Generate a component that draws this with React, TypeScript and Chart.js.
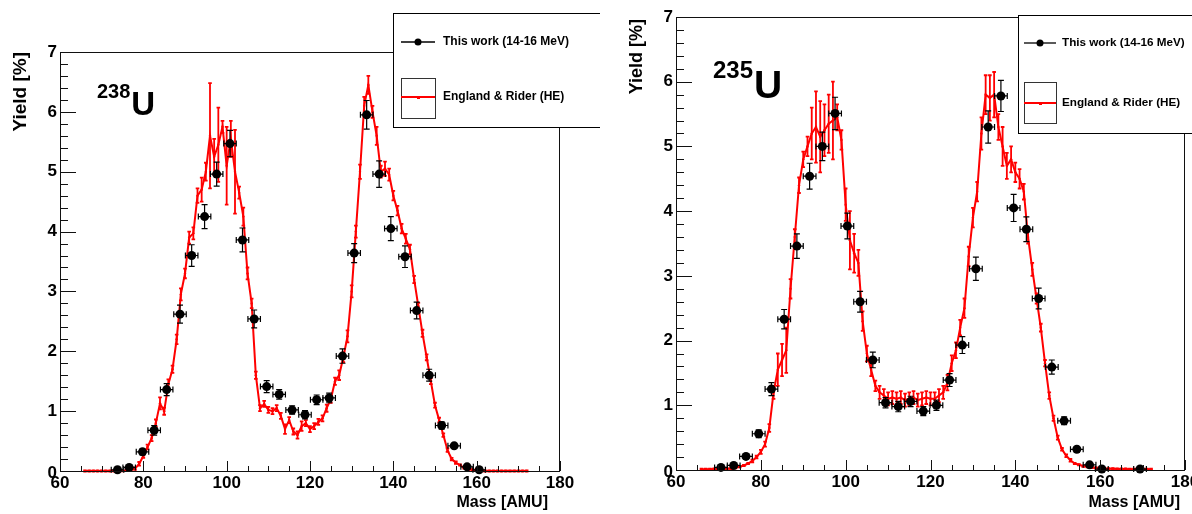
import React, { useEffect, useRef } from "react";
import { Chart, registerables } from "chart.js";

Chart.register(...registerables);

// ---------------- Data ----------------
const refMass = [
  66, 67, 68, 69, 70, 71, 72, 73, 74, 75, 76, 77, 78, 79, 80, 81, 82, 83, 84, 85,
  86, 87, 88, 89, 90, 91, 92, 93, 94, 95, 96, 97, 98, 99, 100, 101, 102, 103, 104, 105,
  106, 107, 108, 109, 110, 111, 112, 113, 114, 115, 116, 117, 118, 119, 120, 121, 122, 123, 124, 125,
  126, 127, 128, 129, 130, 131, 132, 133, 134, 135, 136, 137, 138, 139, 140, 141, 142, 143, 144, 145,
  146, 147, 148, 149, 150, 151, 152, 153, 154, 155, 156, 157, 158, 159, 160, 161, 162, 163, 164, 165,
  166, 167, 168, 169, 170, 171, 172,
];

const refYieldU238 = [
  0, 0, 0, 0, 0, 0, 0, 0, 0,
  0.005, 0.01, 0.02, 0.04, 0.12,
  0.25, 0.4, 0.55, 0.8, 1.13,
  1.0, 1.45, 1.7, 2.2, 2.95,
  3.3, 3.9, 3.97, 4.6, 4.7,
  5.0, 5.6, 5.25, 5.45, 5.75,
  5.1, 5.55, 5.0, 4.65, 4.25,
  3.3, 2.8, 1.6, 1.05, 1.12,
  1.02, 1.0, 1.05, 0.92, 0.7,
  0.85, 0.66, 0.6, 0.75, 0.8,
  0.7, 0.75, 0.82, 0.88, 1.05,
  1.2, 1.5, 1.6, 1.9, 2.25,
  3.0, 4.0, 5.0, 6.1, 6.45,
  6.0, 5.6, 5.0, 5.05, 4.95,
  4.6, 4.35, 4.05, 3.88, 3.7,
  3.2, 2.75, 2.3, 1.9, 1.5,
  1.1, 0.85, 0.6, 0.35, 0.2,
  0.14, 0.1, 0.05, 0.03, 0.02,
  0.01, 0.005, 0, 0, 0,
  0, 0, 0, 0, 0,
  0, 0, 0,
];

const refErrU238 = [
  0.01, 0.01, 0.01, 0.01, 0.01, 0.01, 0.01, 0.01, 0.01,
  0.01, 0.01, 0.01, 0.02, 0.03,
  0.03, 0.04, 0.05, 0.06, 0.1,
  0.06, 0.08, 0.06, 0.08, 0.1,
  0.08, 0.1, 0.1, 0.12, 0.2,
  0.15, 0.88, 0.3, 0.62, 0.1,
  0.65, 0.3, 0.7, 0.1, 0.15,
  0.1, 0.08, 0.06, 0.05, 0.05,
  0.05, 0.05, 0.05, 0.05, 0.08,
  0.05, 0.05, 0.06, 0.08, 0.05,
  0.05, 0.05, 0.05, 0.05, 0.06,
  0.06, 0.06, 0.08, 0.08, 0.1,
  0.1, 0.1, 0.12, 0.15, 0.15,
  0.1, 0.15, 0.1, 0.12, 0.1,
  0.08, 0.08, 0.08, 0.08, 0.08,
  0.06, 0.06, 0.06, 0.05, 0.05,
  0.04, 0.04, 0.03, 0.03, 0.02,
  0.02, 0.01, 0.01, 0.01, 0.01,
  0.01, 0.01, 0.01, 0.01, 0.01,
  0.01, 0.01, 0.01, 0.01, 0.01,
  0.01, 0.01, 0.01,
];

const refYieldU235 = [
  0.01, 0.01, 0.01, 0.015, 0.015,
  0.02, 0.02, 0.025, 0.035, 0.05,
  0.07, 0.1, 0.14, 0.2, 0.28,
  0.4, 0.65, 1.2, 1.55, 1.7,
  1.85, 2.8, 3.6, 4.4, 4.8,
  5.0, 5.2, 5.3, 5.15, 5.25,
  5.35, 5.4, 5.45, 5.1, 4.1,
  3.55, 3.35, 3.2, 2.3, 1.8,
  1.55, 1.3, 1.2, 1.15, 1.1,
  1.12, 1.1, 1.12, 1.08, 1.1,
  1.12, 1.08, 1.1, 1.12, 1.1,
  1.1, 1.15, 1.2, 1.35, 1.65,
  1.85, 2.2, 2.5, 3.3, 3.9,
  4.3, 5.2, 5.8, 5.75, 5.8,
  5.3, 5.0, 4.7, 4.8, 4.6,
  4.5, 4.3, 3.6, 3.1, 2.65,
  2.2, 1.65, 1.15, 0.8, 0.5,
  0.32, 0.22, 0.15, 0.1, 0.08,
  0.06, 0.05, 0.04, 0.03, 0.025,
  0.02, 0.02, 0.02, 0.015, 0.015,
  0.015, 0.01, 0.01, 0.01, 0.01,
  0.01, 0.01,
];

const refErrU235 = [
  0.01, 0.01, 0.01, 0.01, 0.01,
  0.01, 0.01, 0.01, 0.01, 0.01,
  0.01, 0.01, 0.02, 0.02, 0.03,
  0.04, 0.06, 0.1, 0.25, 0.25,
  0.35, 0.15, 0.12, 0.12, 0.12,
  0.15, 0.4, 0.55, 0.55, 0.4,
  0.45, 0.6, 0.2, 0.15, 0.25,
  0.45, 0.3, 0.2, 0.15, 0.12,
  0.1, 0.08, 0.1, 0.1, 0.1,
  0.1, 0.1, 0.1, 0.1, 0.1,
  0.1, 0.1, 0.1, 0.1, 0.1,
  0.1, 0.1, 0.1, 0.12, 0.12,
  0.12, 0.12, 0.15, 0.15, 0.15,
  0.15, 0.25, 0.3, 0.35, 0.35,
  0.2, 0.3, 0.2, 0.2, 0.15,
  0.15, 0.12, 0.1, 0.1, 0.08,
  0.06, 0.05, 0.05, 0.04, 0.03,
  0.02, 0.02, 0.02, 0.01, 0.01,
  0.01, 0.01, 0.01, 0.01, 0.01,
  0.01, 0.01, 0.01, 0.01, 0.01,
  0.01, 0.01, 0.01, 0.01, 0.01,
  0.01, 0.01,
];

const workMassU238 = [73.8, 76.6, 79.8, 82.6, 85.6, 88.8, 91.6, 94.7, 97.6, 100.8, 103.8, 106.6, 109.6, 112.6, 115.7, 118.8, 121.6, 124.6, 127.8, 130.6, 133.6, 136.6, 139.4, 142.8, 145.6, 148.6, 151.6, 154.6, 157.7, 160.6];
const workYieldU238 = [0.02, 0.06, 0.32, 0.68, 1.36, 2.62, 3.6, 4.25, 4.96, 5.47, 3.86, 2.54, 1.41, 1.28, 1.02, 0.94, 1.19, 1.22, 1.92, 3.64, 5.95, 4.96, 4.05, 3.58, 2.68, 1.6, 0.76, 0.42, 0.07, 0.02];
const workErrU238 = [0.02, 0.02, 0.05, 0.08, 0.1, 0.15, 0.18, 0.2, 0.2, 0.22, 0.2, 0.15, 0.1, 0.08, 0.07, 0.07, 0.08, 0.08, 0.12, 0.16, 0.24, 0.22, 0.2, 0.18, 0.14, 0.1, 0.06, 0.04, 0.02, 0.01];

const workMassU235 = [70.6, 73.6, 76.5, 79.5, 82.5, 85.5, 88.5, 91.5, 94.5, 97.5, 100.4, 103.4, 106.4, 109.4, 112.4, 115.3, 118.3, 121.4, 124.5, 127.5, 130.7, 133.6, 136.6, 139.6, 142.6, 145.5, 148.6, 151.5, 154.5, 157.5, 160.4, 169.4];
const workYieldU235 = [0.04, 0.07, 0.21, 0.56, 1.25, 2.33, 3.46, 4.54, 5.0, 5.51, 3.77, 2.6, 1.7, 1.04, 0.98, 1.06, 0.91, 1.0, 1.39, 1.93, 3.11, 5.3, 5.78, 4.05, 3.72, 2.65, 1.59, 0.76, 0.32, 0.08, 0.015, 0.015];
const workErrU235 = [0.02, 0.02, 0.03, 0.06, 0.1, 0.15, 0.19, 0.2, 0.22, 0.25, 0.2, 0.16, 0.12, 0.08, 0.08, 0.08, 0.07, 0.08, 0.1, 0.13, 0.18, 0.25, 0.24, 0.21, 0.19, 0.16, 0.11, 0.06, 0.04, 0.02, 0.01, 0.01];

const massHalfWidth = 1.5;
const xTickLabels = [60, 80, 100, 120, 140, 160, 180];
const yTickLabels = [0, 1, 2, 3, 4, 5, 6, 7];
const legendWork = "This work (14-16 MeV)";
const legendRef = "England & Rider (HE)";
const xTitle = "Mass [AMU]";
const yTitle = "Yield [%]";

// ---------------- Styling ----------------
const FONT = "'Liberation Sans', Arial, Helvetica, sans-serif";
const RED = "#ff0000";

type Panel = {
  left: number;
  width: number;
  height: number;
  padding: { left: number; right: number; top: number; bottom: number };
  refYield: number[];
  refErr: number[];
  workMass: number[];
  workYield: number[];
  workErr: number[];
  iso: string;
  isoX: number;
  isoY: number;
  isoSupSize: number;
  isoUSize: number;
  isoUY: number;
  legend: { x: number; y: number; w: number; h: number; font: number; e1y: number; boxY: number; boxH: number; e2y: number; textDx: number; markDx: number; markW: number };
  yTitleX: number;
  yTitleEnd: number;
  yTitleSize: number;
  xTitleRightGap: number;
  xTitleY: number;
  xTitleSize: number;
  tickFont: number;
};

const panels: Panel[] = [
  {
    left: 0,
    width: 600,
    height: 514,
    padding: { left: 60, right: 40, top: 52, bottom: 43 },
    refYield: refYieldU238,
    refErr: refErrU238,
    workMass: workMassU238,
    workYield: workYieldU238,
    workErr: workErrU238,
    iso: "238",
    isoX: 97,
    isoY: 98,
    isoSupSize: 20,
    isoUSize: 33,
    isoUY: 115,
    legend: { x: 393, y: 13, w: 215, h: 114, font: 12, e1y: 29, boxY: 65, boxH: 40, e2y: 84, textDx: 50, markDx: 8, markW: 34 },
    yTitleX: 21,
    yTitleEnd: 52,
    yTitleSize: 19,
    xTitleRightGap: 12,
    xTitleY: 503,
    xTitleSize: 16,
    tickFont: 17,
  },
  {
    left: 600,
    width: 592,
    height: 514,
    padding: { left: 76, right: 7, top: 17, bottom: 44 },
    refYield: refYieldU235,
    refErr: refErrU235,
    workMass: workMassU235,
    workYield: workYieldU235,
    workErr: workErrU235,
    iso: "235",
    isoX: 113,
    isoY: 78,
    isoSupSize: 24,
    isoUSize: 39,
    isoUY: 98,
    legend: { x: 418, y: 15, w: 200, h: 118, font: 11.7, e1y: 28, boxY: 67, boxH: 41, e2y: 88, textDx: 44, markDx: 6, markW: 32 },
    yTitleX: 37,
    yTitleEnd: 19,
    yTitleSize: 18,
    xTitleRightGap: 5,
    xTitleY: 503,
    xTitleSize: 16,
    tickFont: 17,
  },
];

function makePlugin(p: Panel) {
  return {
    id: "rootStyle",
    beforeDatasetDraw(chart: any, args: any) {
      if (args.index !== 0) return;
      const xs = chart.scales.x;
      const ys = chart.scales.y;
      const ctx = chart.ctx as CanvasRenderingContext2D;
      ctx.save();
      ctx.strokeStyle = "#000";
      ctx.lineWidth = 1.2;
      p.workMass.forEach((m, i) => {
        const v = p.workYield[i];
        const e = p.workErr[i];
        const px = xs.getPixelForValue(m);
        const py = ys.getPixelForValue(v);
        const x1 = xs.getPixelForValue(m - massHalfWidth);
        const x2 = xs.getPixelForValue(m + massHalfWidth);
        const y1 = ys.getPixelForValue(v + e);
        const y2 = ys.getPixelForValue(v - e);
        ctx.beginPath();
        ctx.moveTo(x1, py);
        ctx.lineTo(x2, py);
        ctx.moveTo(x1, py - 3);
        ctx.lineTo(x1, py + 3);
        ctx.moveTo(x2, py - 3);
        ctx.lineTo(x2, py + 3);
        ctx.moveTo(px, y1);
        ctx.lineTo(px, y2);
        ctx.moveTo(px - 3, y1);
        ctx.lineTo(px + 3, y1);
        ctx.moveTo(px - 3, y2);
        ctx.lineTo(px + 3, y2);
        ctx.stroke();
      });
      ctx.restore();
    },
    afterDatasetDraw(chart: any, args: any) {
      if (args.index !== 1) return;
      const xs = chart.scales.x;
      const ys = chart.scales.y;
      const ctx = chart.ctx as CanvasRenderingContext2D;
      ctx.save();
      ctx.strokeStyle = RED;
      ctx.lineWidth = 1.8;
      refMass.forEach((m, i) => {
        const v = p.refYield[i];
        const e = p.refErr[i];
        const px = xs.getPixelForValue(m);
        const y1 = ys.getPixelForValue(v + e);
        const y2 = ys.getPixelForValue(v - e);
        ctx.beginPath();
        ctx.moveTo(px, y1);
        ctx.lineTo(px, y2);
        ctx.moveTo(px - 1.8, y1);
        ctx.lineTo(px + 1.8, y1);
        ctx.moveTo(px - 1.8, y2);
        ctx.lineTo(px + 1.8, y2);
        ctx.stroke();
      });
      ctx.restore();
    },
    afterDraw(chart: any) {
      const xs = chart.scales.x;
      const ys = chart.scales.y;
      const ctx = chart.ctx as CanvasRenderingContext2D;
      const { left, right, top, bottom } = chart.chartArea;
      ctx.save();
      // frame
      ctx.strokeStyle = "#111";
      ctx.lineWidth = 1;
      ctx.strokeRect(left + 0.5, top + 0.5, right - left - 1, bottom - top);
      // x ticks (inside)
      ctx.beginPath();
      for (let v = xs.min; v <= xs.max + 1e-6; v += 5) {
        const px = Math.round(xs.getPixelForValue(v)) + 0.5;
        const len = Math.abs(v % 20) < 1e-6 ? 10 : 5;
        ctx.moveTo(px, bottom);
        ctx.lineTo(px, bottom - len);
      }
      // y ticks (inside)
      for (let k = 0; k <= 35; k++) {
        const v = k * 0.2;
        const py = Math.round(ys.getPixelForValue(v)) + 0.5;
        const len = k % 5 === 0 ? 16 : 8;
        ctx.moveTo(left, py);
        ctx.lineTo(left + len, py);
      }
      ctx.stroke();

      // tick labels
      ctx.fillStyle = "#000";
      ctx.font = `bold ${p.tickFont}px ${FONT}`;
      ctx.textAlign = "center";
      ctx.textBaseline = "middle";
      xTickLabels.forEach((v) => {
        ctx.fillText(String(v), xs.getPixelForValue(v), bottom + 12);
      });
      ctx.textAlign = "right";
      yTickLabels.forEach((v) => {
        ctx.fillText(String(v), left - 3, ys.getPixelForValue(v) + (v === 0 ? 2 : 0));
      });

      // axis titles
      ctx.font = `bold ${p.xTitleSize}px ${FONT}`;
      ctx.textAlign = "right";
      ctx.textBaseline = "middle";
      ctx.fillText(xTitle, right - p.xTitleRightGap, p.xTitleY);
      ctx.save();
      ctx.translate(p.yTitleX, p.yTitleEnd);
      ctx.rotate(-Math.PI / 2);
      ctx.font = `bold ${p.yTitleSize}px ${FONT}`;
      ctx.textAlign = "right";
      ctx.textBaseline = "middle";
      ctx.fillText(yTitle, 0, 0);
      ctx.restore();

      // isotope label
      ctx.textAlign = "left";
      ctx.textBaseline = "alphabetic";
      ctx.font = `bold ${p.isoSupSize}px ${FONT}`;
      ctx.fillText(p.iso, p.isoX, p.isoY);
      const w = ctx.measureText(p.iso).width;
      ctx.font = `bold ${p.isoUSize}px ${FONT}`;
      ctx.fillText("U", p.isoX + w + 1, p.isoUY);

      // legend
      const L = p.legend;
      ctx.fillStyle = "#fff";
      ctx.fillRect(L.x, L.y, L.w, L.h);
      ctx.strokeStyle = "#000";
      ctx.lineWidth = 1;
      ctx.strokeRect(L.x + 0.5, L.y + 0.5, L.w, L.h);
      // entry 1
      const y1 = L.y + L.e1y;
      ctx.beginPath();
      ctx.lineWidth = 1.3;
      ctx.moveTo(L.x + L.markDx, y1);
      ctx.lineTo(L.x + L.markDx + L.markW, y1);
      ctx.stroke();
      ctx.fillStyle = "#000";
      ctx.beginPath();
      ctx.arc(L.x + L.markDx + L.markW / 2, y1, 3.5, 0, Math.PI * 2);
      ctx.fill();
      ctx.font = `bold ${L.font}px ${FONT}`;
      ctx.textBaseline = "middle";
      ctx.textAlign = "left";
      ctx.fillText(legendWork, L.x + L.textDx, y1);
      // entry 2
      ctx.lineWidth = 1;
      ctx.strokeStyle = "#333";
      ctx.strokeRect(L.x + L.markDx + 0.5, L.y + L.boxY + 0.5, L.markW, L.boxH);
      const y2 = L.y + L.e2y;
      ctx.strokeStyle = RED;
      ctx.lineWidth = 2;
      ctx.beginPath();
      ctx.moveTo(L.x + L.markDx, y2);
      ctx.lineTo(L.x + L.markDx + L.markW, y2);
      ctx.stroke();
      ctx.fillStyle = RED;
      ctx.fillRect(L.x + L.markDx + L.markW / 2 - 1, y2 - 1, 3, 3);
      ctx.fillStyle = "#000";
      ctx.fillText(legendRef, L.x + L.textDx, y2);
      ctx.restore();
    },
  };
}

function PanelChart({ p }: { p: Panel }) {
  const ref = useRef<HTMLCanvasElement>(null);
  useEffect(() => {
    if (!ref.current) return;
    const chart = new Chart(ref.current, {
      type: "scatter",
      data: {
        datasets: [
          {
            label: legendWork,
            data: p.workMass.map((m, i) => ({ x: m, y: p.workYield[i] })),
            pointRadius: 4.5,
            pointBackgroundColor: "#000",
            pointBorderColor: "#000",
            pointBorderWidth: 0,
            showLine: false,
            order: 0,
            clip: 8,
          } as any,
          {
            type: "line",
            label: legendRef,
            data: refMass.map((m, i) => ({ x: m, y: p.refYield[i] })),
            borderColor: RED,
            borderWidth: 2,
            pointRadius: 1.2,
            pointBackgroundColor: RED,
            pointBorderWidth: 0,
            tension: 0,
            fill: false,
            order: 1,
            clip: 8,
          } as any,
        ],
      },
      options: {
        responsive: false,
        maintainAspectRatio: false,
        animation: false,
        devicePixelRatio: 1,
        events: [],
        layout: { padding: p.padding },
        scales: {
          x: { type: "linear", min: 60, max: 180, display: false },
          y: { type: "linear", min: 0, max: 7, display: false },
        },
        plugins: {
          legend: { display: false },
          tooltip: { enabled: false },
        },
      },
      plugins: [makePlugin(p)],
    });
    return () => chart.destroy();
  }, [p]);
  return (
    <canvas
      ref={ref}
      width={p.width}
      height={p.height}
      style={{ position: "absolute", left: p.left, top: 0, width: p.width, height: p.height }}
    />
  );
}

export default function App() {
  return (
    <div
      style={{
        position: "fixed",
        left: 0,
        top: 0,
        width: 1192,
        height: 514,
        background: "#fff",
        overflow: "hidden",
      }}
    >
      {panels.map((p, i) => (
        <PanelChart key={i} p={p} />
      ))}
    </div>
  );
}
